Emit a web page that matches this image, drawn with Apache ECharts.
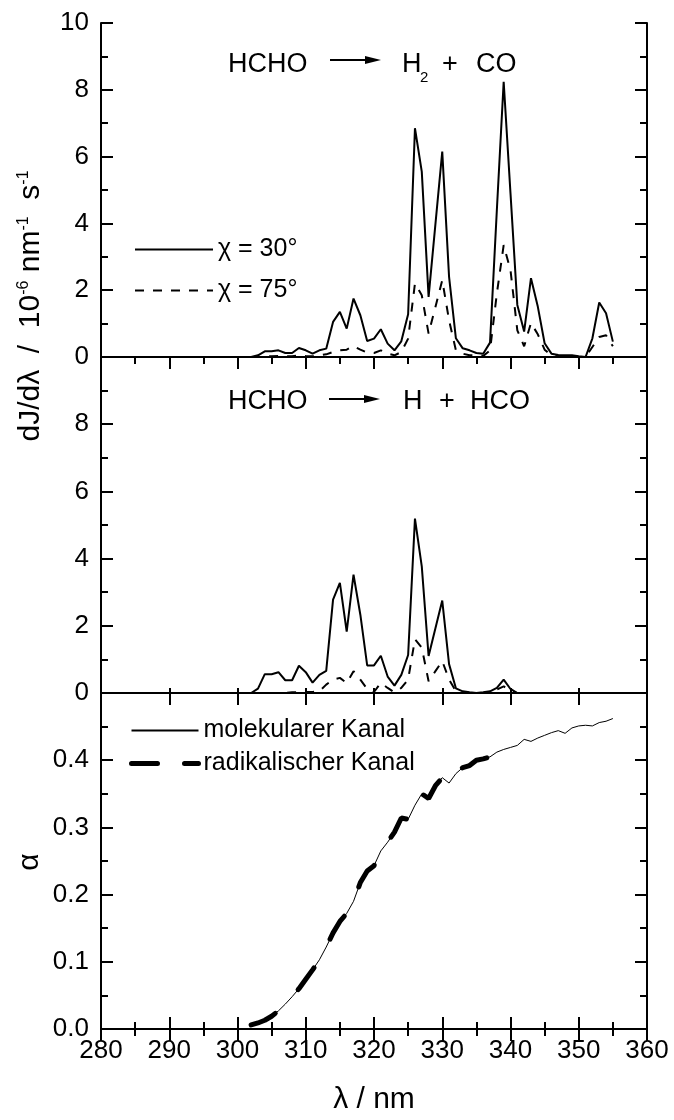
<!DOCTYPE html>
<html>
<head>
<meta charset="utf-8">
<script src="https://cdn.jsdelivr.net/npm/echarts@6/dist/echarts.min.js"></script>
<style>
html,body{margin:0;padding:0;background:#fff;}
#chart{width:674px;height:1120px;}
</style>
</head>
<body>
<div id="chart"></div>
<script>
// wavelengths (nm)
const lambda = [302,303,304,305,306,307,308,309,310,311,312,313,314,315,316,317,318,319,320,321,322,323,324,325,326,327,328,329,330,331,332,333,334,335,336,337,338,339,340,341,342,343,344,345,346,347,348,349,350,351,352,353,354,355];
// HCHO -> H2 + CO, dJ/dlambda (1e-6 nm^-1 s^-1)
const molec30 = [0.0,0.05,0.17,0.17,0.2,0.12,0.12,0.27,0.2,0.1,0.2,0.25,1.05,1.35,0.85,1.75,1.25,0.48,0.55,0.83,0.4,0.2,0.47,1.28,6.85,5.55,1.8,3.98,6.15,2.4,0.56,0.26,0.2,0.12,0.1,0.43,4.4,8.24,4.9,1.56,0.76,2.36,1.51,0.41,0.1,0.06,0.05,0.05,0.02,0.0,0.56,1.63,1.31,0.46];
const molec75 = [0.0,0.0,0.02,0.02,0.03,0.02,0.02,0.05,0.03,0.02,0.05,0.08,0.15,0.2,0.22,0.33,0.22,0.13,0.12,0.2,0.1,0.05,0.15,0.55,2.2,1.85,0.7,1.5,2.3,1.1,0.2,0.1,0.05,0.05,0.03,0.2,1.9,3.35,2.6,0.8,0.32,1.02,0.68,0.22,0.05,0.02,0.02,0.02,0.0,0.0,0.3,0.6,0.65,0.32];
// HCHO -> H + HCO
const rad30 = [0.0,0.13,0.56,0.56,0.62,0.38,0.38,0.81,0.62,0.31,0.54,0.66,2.78,3.28,1.83,3.52,2.33,0.82,0.82,1.11,0.49,0.22,0.54,1.13,5.19,3.77,1.1,1.93,2.75,0.86,0.14,0.05,0.02,0.0,0.02,0.05,0.15,0.4,0.12,0.0];
const rad75 = [0.0,0.0,0.0,0.0,0.0,0.0,0.02,0.03,0.03,0.03,0.05,0.25,0.4,0.45,0.3,0.65,0.4,0.12,0.03,0.3,0.15,0.02,0.15,0.4,1.6,1.35,0.35,0.65,0.95,0.4,0.05,0.02,0.0,0.0,0.0,0.02,0.1,0.2,0.05,0.0];
// alpha
const alphaMol = [0.006,0.009,0.013,0.019,0.027,0.037,0.048,0.060,0.074,0.088,0.103,0.122,0.143,0.160,0.172,0.190,0.218,0.235,0.243,0.265,0.278,0.293,0.314,0.312,0.333,0.350,0.343,0.362,0.374,0.366,0.380,0.389,0.392,0.400,0.402,0.405,0.412,0.416,0.419,0.422,0.431,0.428,0.433,0.437,0.441,0.444,0.440,0.448,0.451,0.452,0.451,0.456,0.458,0.462];
const alphaRad = [0.006,0.009,0.013,0.019,0.027,0.037,0.048,0.060,0.074,0.088,0.103,0.122,0.143,0.160,0.172,0.190,0.218,0.235,0.243,0.265,0.278,0.293,0.314,0.312,0.333,0.350,0.343,0.362,0.374,0.366,0.380,0.389,0.392,0.400,0.402,0.405,0.412];

const FONT = 'Liberation Sans';
function pairs(ys){ return ys.map((v,i)=>[lambda[i], v]); }

const gridL = 101, gridR = 27;
const grids = [
  {left:gridL, right:gridR, top:23, height:334},
  {left:gridL, right:gridR, top:357, height:336},
  {left:gridL, right:gridR, top:693, height:336}
];
const lineS = {show:true, lineStyle:{color:'#000', width:2}};
function xAx(grid, pos, opt){
  return Object.assign({
    type:'value', gridIndex:grid, position:pos, min:280, max:360, interval:10,
    axisLine:lineS, splitLine:{show:false},
    axisTick:{show:true, inside:true, length:12, lineStyle:{color:'#000', width:2}},
    minorTick:{show:true, splitNumber:2, length:7, lineStyle:{color:'#000', width:2}},
    axisLabel:{show:false}
  }, opt||{});
}
function yAx(grid, pos, max, interval, opt){
  return Object.assign({
    type:'value', gridIndex:grid, position:pos, min:0, max:max, interval:interval,
    axisLine:lineS, splitLine:{show:false},
    axisTick:{show:true, inside:true, length:12, lineStyle:{color:'#000', width:2}},
    minorTick:{show:true, splitNumber:2, length:7, lineStyle:{color:'#000', width:2}},
    axisLabel:{show:false}
  }, opt||{});
}
const lbl = {show:true, color:'#000', fontFamily:FONT, fontSize:26, margin:12};
const legendCommon = {orient:'vertical', padding:0, selectedMode:false,
  itemStyle:{opacity:0, borderWidth:0},
  textStyle:{fontFamily:FONT, fontSize:25, color:'#000'}};

const option = {
  animation:false,
  backgroundColor:'#fff',
  grid: grids,
  xAxis:[
    xAx(0,'top'),
    xAx(0,'bottom',{axisTick:{show:false}, minorTick:{show:false}}),
    xAx(1,'top',{minorTick:{show:false}}),
    xAx(1,'bottom',{axisTick:{show:true, inside:true, length:5, lineStyle:{color:'#000', width:2}}, minorTick:{show:false}}),
    xAx(2,'top'),
    xAx(2,'bottom',{axisLabel:Object.assign({}, lbl, {margin:9})})
  ],
  yAxis:[
    yAx(0,'left',10,2,{axisLabel:lbl}),
    yAx(0,'right',10,2),
    yAx(1,'left',10,2,{axisLabel:Object.assign({}, lbl, {showMaxLabel:false})}),
    yAx(1,'right',10,2),
    yAx(2,'left',0.5,0.1,{axisLabel:Object.assign({}, lbl, {showMaxLabel:false, formatter:v=>v.toFixed(1)})}),
    yAx(2,'right',0.5,0.1)
  ],
  legend:[
    Object.assign({data:['χ = 30°','χ = 75°'], left:134, top:237, itemWidth:78, itemHeight:14, itemGap:16}, legendCommon),
    Object.assign({data:['molekularer Kanal', {name:'radikalischer Kanal', lineStyle:{type:[26,27], width:5, cap:'round', color:'#000'}}],
     left:129, top:718, itemWidth:67, itemHeight:14, itemGap:8}, legendCommon)
  ],
  series:[
    {name:'χ = 30°', type:'line', xAxisIndex:0, yAxisIndex:0, data:pairs(molec30), symbol:'none', lineStyle:{color:'#000', width:2}, itemStyle:{color:'#000'}},
    {name:'χ = 75°', type:'line', xAxisIndex:0, yAxisIndex:0, data:pairs(molec75), symbol:'none', lineStyle:{color:'#000', width:2, type:[9,9]}, itemStyle:{color:'#000'}},
    {name:'χ = 30°', type:'line', xAxisIndex:2, yAxisIndex:2, data:pairs(rad30), symbol:'none', lineStyle:{color:'#000', width:2}, itemStyle:{color:'#000'}},
    {name:'χ = 75°', type:'line', xAxisIndex:2, yAxisIndex:2, data:pairs(rad75), symbol:'none', lineStyle:{color:'#000', width:2, type:[9,9]}, itemStyle:{color:'#000'}},
    {name:'molekularer Kanal', type:'line', xAxisIndex:4, yAxisIndex:4, data:pairs(alphaMol), symbol:'none', lineStyle:{color:'#000', width:1}, itemStyle:{color:'#000'}},
    {name:'radikalischer Kanal', type:'line', xAxisIndex:4, yAxisIndex:4, data:pairs(alphaRad), symbol:'none', z:3, lineStyle:{color:'#000', width:5, type:[27,33], cap:'round'}, itemStyle:{color:'#000'}}
  ],
  graphic:[
    {type:'text', left:228, top:51, style:{text:'HCHO', fontFamily:FONT, fontSize:27, fill:'#000'}},
    {type:'line', shape:{x1:330, y1:60, x2:368, y2:60}, style:{stroke:'#000', lineWidth:2}},
    {type:'polygon', shape:{points:[[365,56],[381,60],[365,64]]}, style:{fill:'#000'}},
    {type:'text', left:402, top:51, style:{text:'H', fontFamily:FONT, fontSize:27, fill:'#000'}},
    {type:'text', left:420, top:70, style:{text:'2', fontFamily:FONT, fontSize:15, fill:'#000'}},
    {type:'text', left:442, top:51, style:{text:'+', fontFamily:FONT, fontSize:27, fill:'#000'}},
    {type:'text', left:476, top:51, style:{text:'CO', fontFamily:FONT, fontSize:27, fill:'#000'}},
    {type:'text', left:228, top:388, style:{text:'HCHO', fontFamily:FONT, fontSize:27, fill:'#000'}},
    {type:'line', shape:{x1:329, y1:399, x2:367, y2:399}, style:{stroke:'#000', lineWidth:2}},
    {type:'polygon', shape:{points:[[364,395],[380,399],[364,403]]}, style:{fill:'#000'}},
    {type:'text', left:403, top:388, style:{text:'H', fontFamily:FONT, fontSize:27, fill:'#000'}},
    {type:'text', left:439, top:388, style:{text:'+', fontFamily:FONT, fontSize:27, fill:'#000'}},
    {type:'text', left:470, top:388, style:{text:'HCO', fontFamily:FONT, fontSize:27, fill:'#000'}},
    {type:'text', x:374, y:1100, style:{text:'λ / nm', fontFamily:FONT, fontSize:30, fill:'#000', align:'center', verticalAlign:'middle'}},
    {type:'text', x:30, y:862, rotation:Math.PI/2, style:{text:'α', fontFamily:FONT, fontSize:30, fill:'#000', align:'center', verticalAlign:'middle'}},
    {type:'text', x:31, y:306, rotation:Math.PI/2, style:{
      text:'dJ/dλ  /  10{s|-6} nm{s|-1}  s{s|-1}', fontFamily:FONT, fontSize:30, fill:'#000', align:'center', verticalAlign:'middle',
      rich:{s:{fontFamily:FONT, fontSize:16, fill:'#000', verticalAlign:'top', lineHeight:16}}
    }}
  ]
};
const chart = echarts.init(document.getElementById('chart'), null, {renderer:'canvas'});
chart.setOption(option);
</script>
</body>
</html>
